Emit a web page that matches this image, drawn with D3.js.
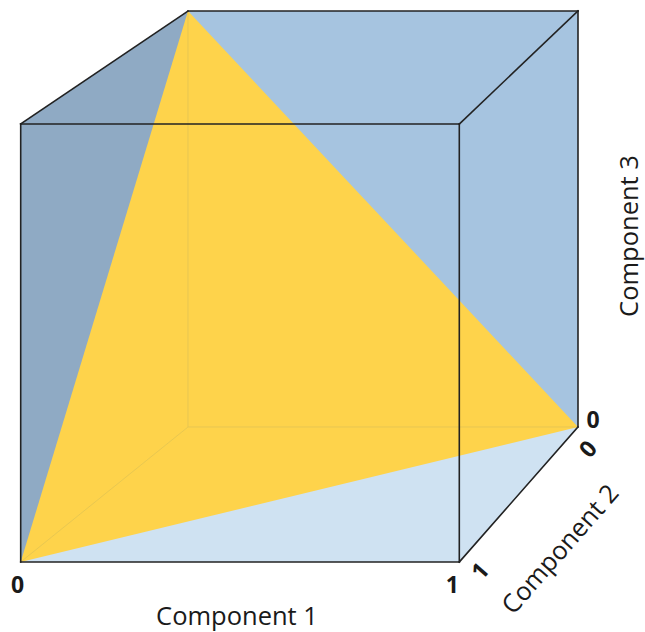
<!DOCTYPE html>
<html><head><meta charset="utf-8">
<script src="https://cdn.jsdelivr.net/npm/d3@7"></script>
<style>body{margin:0;background:#fff}svg{display:block}text{font-family:"Open Sans",sans-serif;fill:#1a1a1a}</style>
</head><body><svg id="c" width="645" height="632"></svg>
<script>
// data
const axisNames = ["Component 1", "Component 2", "Component 3"];
const tickLabels = ["0", "1"];
// simplex vertices (c1, c2, c3): c1+c2+c3 = 1
const simplex = [[1,0,0],[0,1,0],[0,0,1]];
// cube corners in component coordinates
const cubeCorners = [0,1];

const svg = d3.select("#c");
// front face (c2 = 1) and back face (c2 = 0) screen scales
const xFront = d3.scaleLinear().domain([0,1]).range([20.7, 459.3]);
const yFront = d3.scaleLinear().domain([0,1]).range([562, 124]);
const xBack  = d3.scaleLinear().domain([0,1]).range([188, 578]);
const yBack  = d3.scaleLinear().domain([0,1]).range([427, 11]);
const depth = d3.scaleLinear().domain([0,1]).range([0,1]);
function P(c){
  const t = depth(c[1]);
  return [d3.interpolateNumber(xBack(c[0]), xFront(c[0]))(t),
          d3.interpolateNumber(yBack(c[2]), yFront(c[2]))(t)];
}
const line = d3.line();
function poly(pts){ return line(pts.map(P)) + "Z"; }

const C = {back:"#a6c4e0", left:"#8faac4", bottom:"#cfe2f2", tri:"#fed34b", edge:"#222"};

svg.append("defs").append("clipPath").attr("id","triClip")
  .append("path").attr("d", poly(simplex));

// whole silhouette (back, top, right faces)
svg.append("path").attr("d", poly([[0,1,0],[0,1,1],[0,0,1],[1,0,1],[1,0,0],[1,1,0]])).attr("fill", C.back);
// left face
svg.append("path").attr("d", poly([[0,1,0],[0,1,1],[0,0,1],[0,0,0]])).attr("fill", C.left);
// bottom face
svg.append("path").attr("d", poly([[0,1,0],[0,0,0],[1,0,0],[1,1,0]])).attr("fill", C.bottom);
// simplex triangle
svg.append("path").attr("d", poly(simplex)).attr("fill", C.tri);

// hidden edges (faint, seen through the triangle)
const hidden = [[[0,0,0],[0,0,1]],[[0,0,0],[1,0,0]],[[0,0,0],[0,1,0]]];
svg.append("g").attr("clip-path","url(#triClip)")
  .selectAll("path").data(hidden).join("path")
  .attr("d", d => line(d.map(P))).attr("stroke", "#e2c452").attr("stroke-opacity",0.8)
  .attr("stroke-width", 1).attr("fill","none");

// visible edges
const edges = [
  [[0,1,0],[1,1,0]],[[1,1,0],[1,1,1]],[[1,1,1],[0,1,1]],[[0,1,1],[0,1,0]],
  [[0,1,1],[0,0,1]],[[0,0,1],[1,0,1]],[[1,0,1],[1,1,1]],
  [[1,0,1],[1,0,0]],[[1,0,0],[1,1,0]]
];
svg.selectAll(".edge").data(edges).join("path")
  .attr("d", d => line(d.map(P))).attr("stroke", C.edge)
  .attr("stroke-width", 1.6).attr("fill","none").attr("stroke-linecap","square");

// tick labels
const tk = svg.append("g").attr("font-weight","bold").attr("font-size",23);
// component 1
cubeCorners.forEach((v,i) => {
  const p = P([v,1,0]);
  tk.append("text").attr("x", p[0] + (i? -7 : -3)).attr("y", p[1] + 31)
    .attr("text-anchor","middle").text(tickLabels[i]);
});
// component 3 (0 at back bottom right)
{ const p = P([1,0,0]);
  tk.append("text").attr("x", p[0] + 15).attr("y", p[1] + 1).attr("text-anchor","middle").text(tickLabels[0]); }
// component 2 along the bottom right edge
const a0 = P([1,0,0]), a1 = P([1,1,0]);
const ang = Math.atan2(a0[1]-a1[1], a0[0]-a1[0]) * 180/Math.PI;
[[0,[588,449]],[1,[480,571]]].forEach(([i,pos]) => {
  tk.append("text").attr("transform",`translate(${pos[0]},${pos[1]}) rotate(${ang})`)
    .attr("text-anchor","middle").attr("dy","0.35em").text(tickLabels[i]);
});

// axis titles
const tt = svg.append("g").attr("font-size",25.5);
tt.append("text").attr("x", 237).attr("y", 625).attr("text-anchor","middle").text(axisNames[0]);
tt.append("text").attr("transform",`translate(560,549) rotate(${ang})`).attr("text-anchor","middle").attr("dy","0.35em").text(axisNames[1]);
tt.append("text").attr("transform",`translate(637.5,236) rotate(-90)`).attr("text-anchor","middle").text(axisNames[2]);
</script></body></html>
